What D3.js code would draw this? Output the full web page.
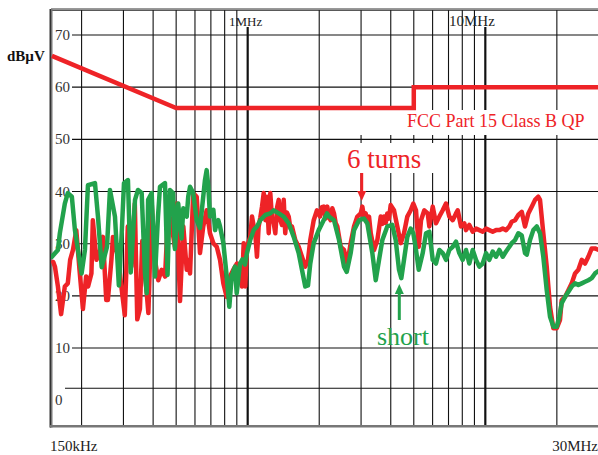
<!DOCTYPE html>
<html>
<head>
<meta charset="utf-8">
<script src="https://cdn.jsdelivr.net/npm/d3@7"></script>
<style>
  html, body { margin: 0; padding: 0; background: #fff; }
  svg { display: block; }
  text { font-family: "Liberation Serif", "DejaVu Serif", serif; }
</style>
</head>
<body>
<svg id="chart" width="598" height="455"></svg>
<script>
// Conducted emission scan, 150 kHz – 30 MHz (frequencies in MHz, levels in dBµV)

const limitFreq  = [0.15, 0.5, 5, 5, 30];
const limitLevel = [66, 56, 56, 60, 60];

const gridFreqs = [0.2, 0.3, 0.4, 0.5, 0.6, 0.7, 0.8, 0.9, 1, 2, 3, 4, 5, 6, 7, 8, 9, 10, 20];
const decadeFreqs = [1, 10];
const decadeLabels = ["1MHz", "10MHz"];
const levelTicks = [70, 60, 50, 40, 30, 20, 10];
const levelLabels = ["70", "60", "50", "40", "30", "20", "10", "0"];
const zeroLine = 2.3;

// "6 turns" trace
const redFreq = [0.152, 0.1545, 0.159, 0.164, 0.170, 0.175, 0.179, 0.184, 0.190, 0.196, 0.2026, 0.209, 0.213, 0.220, 0.223, 0.231, 0.238, 0.246, 0.254, 0.258, 0.267, 0.271, 0.2845, 0.294, 0.304, 0.313, 0.324, 0.335, 0.343, 0.352, 0.360, 0.376, 0.382, 0.3945, 0.407, 0.4205, 0.4345, 0.449, 0.463, 0.479, 0.494, 0.5025, 0.519, 0.536, 0.554, 0.562, 0.572, 0.590, 0.610, 0.630, 0.650, 0.672, 0.694, 0.717, 0.741, 0.765, 0.790, 0.816, 0.842, 0.870, 0.902, 0.946, 0.962, 0.977, 0.993, 1.025, 1.043, 1.060, 1.076, 1.094, 1.112, 1.130, 1.149, 1.168, 1.187, 1.206, 1.226, 1.245, 1.265, 1.287, 1.307, 1.330, 1.351, 1.372, 1.394, 1.418, 1.439, 1.462, 1.488, 1.512, 1.536, 1.586, 1.639, 1.692, 1.747, 1.794, 1.834, 1.896, 1.957, 2.015, 2.050, 2.088, 2.125, 2.163, 2.200, 2.235, 2.270, 2.308, 2.345, 2.383, 2.463, 2.543, 2.626, 2.713, 2.802, 2.893, 2.990, 3.037, 3.090, 3.138, 3.190, 3.240, 3.295, 3.402, 3.513, 3.630, 3.690, 3.747, 3.810, 3.868, 3.930, 3.998, 4.127, 4.262, 4.405, 4.548, 4.696, 4.853, 4.977, 5.109, 5.245, 5.363, 5.538, 5.723, 5.813, 6.008, 6.201, 6.405, 6.617, 6.832, 7.054, 7.290, 7.528, 7.652, 7.901, 8.157, 8.294, 8.564, 8.851, 9.140, 9.435, 9.752, 10.07, 10.39, 10.74, 11.09, 11.46, 11.84, 12.22, 12.62, 12.91, 13.34, 13.77, 14.23, 14.69, 15.17, 15.68, 16.19, 16.71, 16.99, 17.54, 18.13, 18.72, 19.33, 19.98, 20.62, 20.96, 21.65, 22.36, 23.10, 23.85, 24.63, 25.45, 26.28, 27.13, 28.04, 28.95, 30.0];
const redLevel = [26.5, 25.6, 21.8, 16.5, 21.8, 22.4, 26.9, 28.8, 32.6, 25.0, 17.5, 23.7, 21.8, 24.3, 34.5, 26.9, 28.2, 31.3, 19.2, 19.2, 26.9, 31.3, 27.5, 21.8, 16.3, 33.3, 25.6, 37.7, 15.5, 17.5, 30.5, 20.5, 16.7, 37.7, 26.9, 23.0, 25.0, 23.7, 36.4, 33.3, 29.4, 37.7, 19.0, 33.3, 25.0, 26.9, 24.3, 39.7, 39.0, 28.2, 33.3, 36.4, 32.0, 30.1, 29.4, 26.9, 22.4, 19.8, 23.7, 25.0, 26.2, 21.8, 30.1, 21.8, 29.4, 31.3, 35.2, 33.3, 32.0, 27.5, 33.3, 35.0, 37.1, 39.7, 34.5, 39.0, 32.0, 39.7, 35.0, 33.9, 32.0, 37.0, 38.4, 34.5, 33.6, 38.4, 32.0, 36.0, 35.2, 33.0, 33.3, 30.7, 29.4, 27.5, 25.6, 26.9, 30.7, 34.5, 36.4, 35.2, 37.0, 37.1, 34.8, 37.1, 35.0, 34.5, 36.8, 35.8, 34.0, 33.3, 29.4, 28.8, 26.2, 30.1, 33.3, 35.2, 35.8, 37.1, 35.0, 35.8, 34.0, 35.2, 32.0, 28.8, 30.7, 35.2, 33.8, 35.2, 34.0, 35.8, 34.8, 37.4, 36.4, 33.3, 30.1, 32.0, 35.2, 36.4, 37.7, 36.4, 29.4, 34.5, 36.4, 35.8, 33.3, 37.1, 33.9, 35.2, 36.4, 37.7, 35.2, 34.5, 35.8, 36.4, 33.3, 33.9, 32.6, 33.6, 32.3, 32.9, 32.6, 32.3, 32.9, 32.6, 32.3, 32.6, 32.6, 32.9, 32.6, 33.3, 34.2, 34.5, 35.5, 36.1, 33.3, 35.8, 37.1, 38.4, 39.0, 38.4, 32.0, 25.6, 17.9, 13.8, 13.8, 15.4, 19.2, 19.8, 21.1, 22.4, 24.3, 25.0, 26.9, 26.2, 27.5, 29.1, 29.1, 28.8];

// "short" trace
const greenFreq = [0.150, 0.159, 0.162, 0.170, 0.175, 0.182, 0.1875, 0.200, 0.2066, 0.2127, 0.2277, 0.2344, 0.243, 0.2558, 0.2633, 0.2764, 0.287, 0.295, 0.3016, 0.3134, 0.322, 0.3356, 0.3454, 0.358, 0.3697, 0.376, 0.381, 0.3945, 0.4073, 0.4193, 0.4275, 0.4487, 0.460, 0.471, 0.485, 0.494, 0.510, 0.527, 0.536, 0.554, 0.562, 0.572, 0.590, 0.610, 0.630, 0.661, 0.672, 0.683, 0.694, 0.717, 0.729, 0.741, 0.752, 0.765, 0.790, 0.816, 0.837, 0.856, 0.884, 0.899, 0.928, 0.950, 0.974, 0.993, 1.025, 1.060, 1.094, 1.130, 1.186, 1.245, 1.287, 1.351, 1.418, 1.488, 1.562, 1.639, 1.692, 1.747, 1.794, 1.834, 1.896, 1.990, 2.088, 2.157, 2.199, 2.308, 2.423, 2.543, 2.611, 2.713, 2.802, 2.941, 3.087, 3.188, 3.346, 3.458, 3.571, 3.687, 3.868, 4.060, 4.196, 4.333, 4.431, 4.548, 4.696, 4.853, 4.977, 5.109, 5.245, 5.452, 5.630, 5.813, 6.008, 6.201, 6.405, 6.617, 6.832, 7.054, 7.290, 7.528, 7.770, 8.033, 8.294, 8.564, 8.851, 9.140, 9.435, 9.752, 10.07, 10.39, 10.74, 11.09, 11.46, 11.84, 12.22, 12.62, 12.91, 13.34, 13.77, 14.23, 14.69, 14.94, 15.42, 15.92, 16.46, 16.99, 17.54, 18.13, 18.72, 19.33, 19.98, 20.48, 20.96, 21.65, 22.36, 23.10, 23.85, 24.63, 25.45, 26.28, 27.13, 28.04, 28.95, 30.0];
const greenLevel = [27.5, 28.8, 32.0, 37.7, 39.7, 39.0, 32.6, 24.3, 28.8, 41.2, 41.6, 35.2, 25.5, 29.4, 40.3, 35.2, 22.0, 32.0, 41.6, 42.2, 24.5, 38.4, 40.3, 39.7, 24.3, 20.5, 38.4, 39.7, 23.7, 35.2, 40.9, 41.6, 24.0, 40.3, 39.7, 29.0, 37.7, 31.0, 36.8, 35.2, 39.0, 40.9, 39.7, 34.5, 33.0, 42.2, 44.1, 40.9, 35.2, 36.5, 32.6, 34.0, 34.5, 33.3, 30.1, 23.7, 17.9, 23.7, 25.6, 20.5, 26.2, 27.0, 26.0, 28.2, 30.7, 32.6, 33.3, 34.5, 35.5, 35.8, 36.4, 35.8, 35.2, 33.9, 31.3, 28.2, 25.0, 21.8, 22.0, 26.2, 30.1, 32.6, 34.5, 35.8, 35.2, 34.5, 30.7, 25.6, 24.6, 28.2, 32.6, 34.5, 34.8, 33.9, 28.2, 23.0, 26.9, 30.7, 33.3, 33.6, 30.7, 25.0, 23.4, 26.9, 31.3, 32.9, 32.0, 28.8, 25.0, 28.2, 32.0, 32.3, 26.9, 26.2, 28.8, 28.2, 26.9, 28.8, 29.4, 30.4, 28.2, 26.9, 28.8, 26.2, 28.8, 26.9, 25.6, 26.2, 28.2, 26.9, 28.5, 27.5, 28.8, 27.5, 28.5, 29.4, 30.1, 30.7, 32.0, 31.6, 28.2, 27.9, 30.7, 32.6, 33.3, 32.0, 27.5, 21.1, 16.0, 14.1, 14.1, 16.0, 18.6, 19.8, 20.8, 21.8, 22.4, 22.1, 22.4, 22.7, 23.0, 23.4, 24.3, 24.8];

const RED = "#ee2327";
const GREEN = "#22a24c";

const svg = d3.select("#chart");

const x = d3.scaleLog().domain([0.15, 30]).range([51.9, 598.7]);
const y = d3.scaleLinear().domain([-5, 75]).range([426.3, 8.9]);

const plotTop = 10, plotBottom = 426, plotLeft = 51, plotRight = 598;

// vertical grid
const grid = svg.append("g");
grid.selectAll("line.v").data(gridFreqs).join("line")
  .attr("x1", d => x(d)).attr("x2", d => x(d))
  .attr("y1", d => decadeFreqs.includes(d) ? 27 : plotTop)
  .attr("y2", plotBottom)
  .attr("stroke", "#111")
  .attr("stroke-width", d => decadeFreqs.includes(d) ? 2.2 : 1.1);

// horizontal grid
grid.selectAll("line.h").data(levelTicks).join("line")
  .attr("x1", 72).attr("x2", plotRight)
  .attr("y1", d => y(d)).attr("y2", d => y(d))
  .attr("stroke", "#111").attr("stroke-width", 1.1);
grid.append("line")
  .attr("x1", 65).attr("x2", plotRight)
  .attr("y1", y(zeroLine)).attr("y2", y(zeroLine))
  .attr("stroke", "#111").attr("stroke-width", 1.1);

// white backing behind the annotation texts
svg.append("rect").attr("x", 356).attr("y", 110).attr("width", 242).attr("height", 25).attr("fill", "#fff");
svg.append("rect").attr("x", 345).attr("y", 143).attr("width", 95).attr("height", 30).attr("fill", "#fff");

// frame
svg.append("line").attr("x1", plotLeft).attr("x2", plotRight).attr("y1", 8.5).attr("y2", 8.5)
  .attr("stroke", "#999").attr("stroke-width", 1);
svg.append("line").attr("x1", plotLeft).attr("x2", plotRight).attr("y1", 10.2).attr("y2", 10.2)
  .attr("stroke", "#222").attr("stroke-width", 1.2);
svg.append("line").attr("x1", 51).attr("x2", 51).attr("y1", 9).attr("y2", 427.5)
  .attr("stroke", "#777").attr("stroke-width", 3);
svg.append("line").attr("x1", 50.3).attr("x2", 50.3).attr("y1", 9).attr("y2", 427.5)
  .attr("stroke", "#222").attr("stroke-width", 1);
svg.append("line").attr("x1", 50).attr("x2", plotRight).attr("y1", 426.3).attr("y2", 426.3)
  .attr("stroke", "#777").attr("stroke-width", 2.6);

// axis texts
const tickText = svg.append("g").attr("font-size", 15).attr("fill", "#333");
tickText.selectAll("text").data(levelLabels).join("text")
  .attr("x", 55)
  .attr("y", d => y(+d) + 5)
  .text(d => d);

svg.append("text").attr("x", 7).attr("y", 61).attr("font-size", 15).attr("font-weight", "bold")
  .attr("fill", "#111").text("dBµV");

svg.append("text").attr("x", 50).attr("y", 451).attr("font-size", 15).attr("fill", "#222").text("150kHz");
svg.append("text").attr("x", 598).attr("y", 451).attr("text-anchor", "end").attr("font-size", 15)
  .attr("fill", "#222").text("30MHz");

svg.append("text").attr("x", 229).attr("y", 26).attr("font-size", 13).attr("fill", "#222").text(decadeLabels[0]);
svg.append("text").attr("x", 449).attr("y", 26).attr("font-size", 15).attr("fill", "#222").text(decadeLabels[1]);

// traces
const clip = svg.append("clipPath").attr("id", "plotClip");
clip.append("rect").attr("x", plotLeft).attr("y", plotTop).attr("width", plotRight - plotLeft).attr("height", plotBottom - plotTop);

const line = d3.line().x(d => x(d[0])).y(d => y(d[1]));
const traces = svg.append("g").attr("clip-path", "url(#plotClip)");

traces.append("path")
  .attr("d", line(d3.zip(redFreq, redLevel)))
  .attr("fill", "none").attr("stroke", RED).attr("stroke-width", 4.5)
  .attr("stroke-linejoin", "round").attr("stroke-linecap", "round");

traces.append("path")
  .attr("d", line(d3.zip(greenFreq, greenLevel)))
  .attr("fill", "none").attr("stroke", GREEN).attr("stroke-width", 4.5)
  .attr("stroke-linejoin", "round").attr("stroke-linecap", "round");

traces.append("path")
  .attr("d", line(d3.zip(limitFreq, limitLevel)))
  .attr("fill", "none").attr("stroke", RED).attr("stroke-width", 4.5);

// annotations
svg.append("text").attr("x", 407).attr("y", 127).attr("font-size", 18).attr("fill", RED)
  .text("FCC Part 15 Class B QP");

svg.append("text").attr("x", 347).attr("y", 168).attr("font-size", 27).attr("fill", RED).text("6 turns");
svg.append("text").attr("x", 377).attr("y", 345).attr("font-size", 26).attr("fill", GREEN).text("short");

// arrows
const arrowX1 = 361.7, arrowX2 = 399.3;
svg.append("line").attr("x1", arrowX1).attr("x2", arrowX1).attr("y1", 173).attr("y2", 193)
  .attr("stroke", RED).attr("stroke-width", 3);
svg.append("path").attr("d", `M${arrowX1 - 4.5},191 L${arrowX1 + 4.5},191 L${arrowX1},201 Z`).attr("fill", RED);

svg.append("line").attr("x1", arrowX2).attr("x2", arrowX2).attr("y1", 320).attr("y2", 292)
  .attr("stroke", GREEN).attr("stroke-width", 3);
svg.append("path").attr("d", `M${arrowX2 - 4.5},294 L${arrowX2 + 4.5},294 L${arrowX2},284 Z`).attr("fill", GREEN);
</script>
</body>
</html>
